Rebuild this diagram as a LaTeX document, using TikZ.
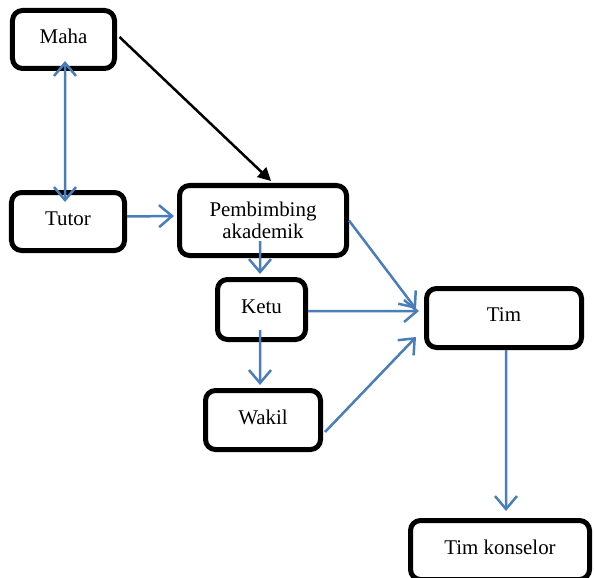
\documentclass[tikz,border=0pt]{standalone}
\usepackage{fontspec}
\setmainfont{Liberation Serif}
\usepackage{xcolor}
\usetikzlibrary{arrows.meta}
\definecolor{linkblue}{RGB}{74,126,187}

\tikzset{
  box/.style={draw, line width=5bp, rounded corners=10bp, align=center,
    font=\fontsize{21}{22}\selectfont, inner sep=2bp, text depth=6bp},
  link/.style={linkblue, line width=2.5bp},
  barb/.tip={Straight Barb[length=13bp,width=22bp]}
}

\begin{document}
\begin{tikzpicture}[x=1bp, y=-1bp, thick]
    \useasboundingbox (0,0) rectangle (594,578);

    \node[box, minimum width=102bp, minimum height=58bp] (maha) at (63.5, 39.5) {Maha};
    \node[box, minimum width=113bp, minimum height=58bp] (tutor) at (68, 221.5) {Tutor};
    \node[box, minimum width=167bp, minimum height=70bp, text depth=] (pemb) at (263, 220.5) {Pembimbing\\akademik};
    \node[box, minimum width=88bp, minimum height=60bp] (ketu) at (261.5, 309.5) {Ketu};
    \node[box, minimum width=115bp, minimum height=59bp] (wakil) at (263, 420) {Wakil};
    \node[box, minimum width=155bp, minimum height=59bp] (tim) at (504, 318) {Tim};
    \node[box, minimum width=179bp, minimum height=59bp] (konselor) at (500, 550) {Tim konselor};

%arrows
    \draw[line width=2.5bp, -{Triangle[length=13bp,width=13bp]}]
        ([xshift=2.5bp,yshift=2.5bp]maha.east) -- ([xshift=8bp,yshift=2bp]pemb.north);
    \draw[link, barb-barb] ([xshift=1.5bp,yshift=10bp]maha.south) -- ([xshift=-3bp,yshift=-12bp]tutor.north);
    \draw[link, -barb] ([yshift=5bp]tutor.east) -- ([xshift=-3bp,yshift=4.5bp]pemb.west);
    \draw[link, -barb] ([xshift=-3bp,yshift=17bp]pemb.south) -- ([xshift=-1.5bp,yshift=3bp]ketu.north);
    \draw[link, -barb] ([xshift=-1.5bp,yshift=12bp]ketu.south) -- ([xshift=-3bp,yshift=3bp]wakil.north);
    \draw[link, -barb] ([yshift=-1.5bp]ketu.east) -- ([xshift=-5bp,yshift=7bp]tim.west);
    \draw[link, -barb] (pemb.east) -- ([xshift=-8bp,yshift=9bp]tim.west);
    \draw[link, -barb] ([xshift=2bp,yshift=-12bp]wakil.east) -- ([xshift=-8bp,yshift=-19bp]tim.west);
    \draw[link, -barb] ([xshift=2bp]tim.south) -- ([xshift=6bp,yshift=7bp]konselor.north);

\end{tikzpicture}
\end{document}
